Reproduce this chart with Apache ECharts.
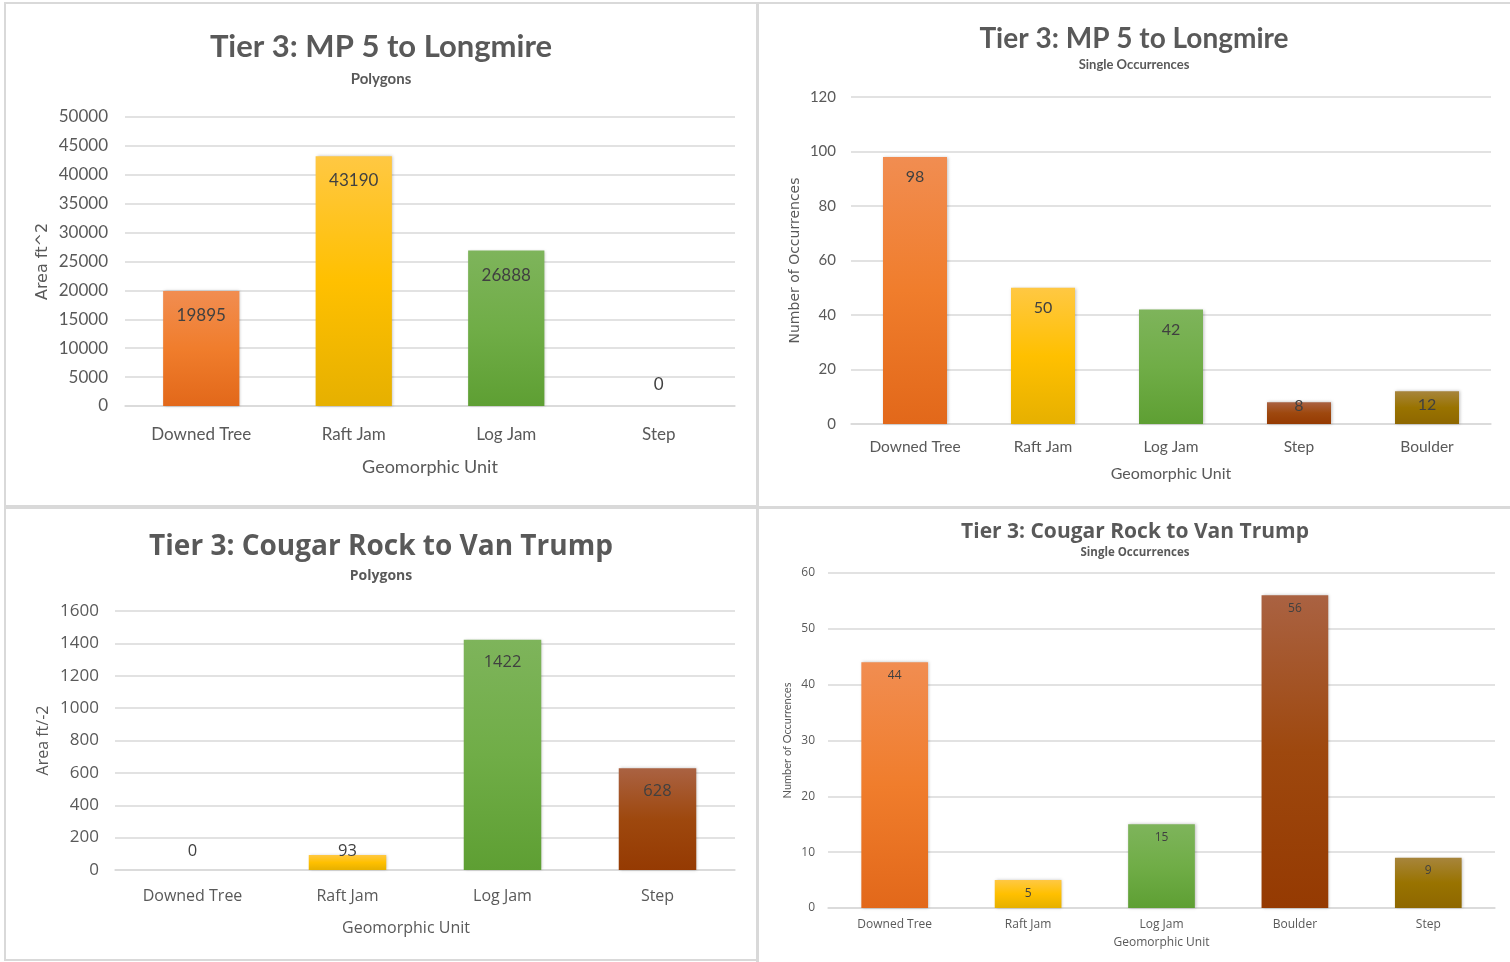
<!DOCTYPE html>
<html>
<head>
<meta charset="utf-8">
<script src="https://cdn.jsdelivr.net/npm/echarts@6.0.0/dist/echarts.min.js"></script>
<style>
html,body{margin:0;padding:0;background:#ffffff;}
#chart{width:1510px;height:962px;}
</style>
</head>
<body>
<div id="chart"></div>
<script>
// ---------- Data ----------
const p1Title = 'Tier 3: MP 5 to Longmire';
const p1Subtitle = 'Polygons';
const p1Categories = ['Downed Tree', 'Raft Jam', 'Log Jam', 'Step'];
const p1Values = [19895, 43190, 26888, 0];
const p1Ticks = [0, 5000, 10000, 15000, 20000, 25000, 30000, 35000, 40000, 45000, 50000];
const p1YName = 'Area ft^2';
const p1XName = 'Geomorphic Unit';

const p2Title = 'Tier 3: MP 5 to Longmire';
const p2Subtitle = 'Single Occurrences';
const p2Categories = ['Downed Tree', 'Raft Jam', 'Log Jam', 'Step', 'Boulder'];
const p2Values = [98, 50, 42, 8, 12];
const p2Ticks = [0, 20, 40, 60, 80, 100, 120];
const p2YName = 'Number of Occurrences';
const p2XName = 'Geomorphic Unit';

const p3Title = 'Tier 3: Cougar Rock to Van Trump';
const p3Subtitle = 'Polygons';
const p3Categories = ['Downed Tree', 'Raft Jam', 'Log Jam', 'Step'];
const p3Values = [0, 93, 1422, 628];
const p3Ticks = [0, 200, 400, 600, 800, 1000, 1200, 1400, 1600];
const p3YName = 'Area ft/-2';
const p3XName = 'Geomorphic Unit';

const p4Title = 'Tier 3: Cougar Rock to Van Trump';
const p4Subtitle = 'Single Occurrences';
const p4Categories = ['Downed Tree', 'Raft Jam', 'Log Jam', 'Boulder', 'Step'];
const p4Values = [44, 5, 15, 56, 9];
const p4Ticks = [0, 10, 20, 30, 40, 50, 60];
const p4YName = 'Number of Occurrences';
const p4XName = 'Geomorphic Unit';

// ---------- Styles ----------
const CAL = "Lato, 'Liberation Sans', sans-serif";
const SEG = "'Open Sans', 'Noto Sans', sans-serif";
const VER = "'DejaVu Sans', Verdana, sans-serif";
const AXIS_COLOR = '#595959';
const LABEL_COLOR = '#404040';
const GRID_COLOR = '#d9d9d9';

const palette = [
  ['#F18D51', '#F07D2C', '#E2681A'],  // orange
  ['#FFC843', '#FFC000', '#E6B000'],  // yellow
  ['#7EB45B', '#70AD47', '#5E9F33'],  // green
  ['#AA6242', '#9E480E', '#953A02'],  // brown
  ['#A7853C', '#997300', '#8E6700']   // dark gold
];
function grad(c) {
  return {type: 'linear', x: 0, y: 0, x2: 0, y2: 1,
    colorStops: [{offset: 0, color: c[0]}, {offset: 0.5, color: c[1]}, {offset: 1, color: c[2]}]};
}

const panels = [
  {title: p1Title, sub: p1Subtitle, cats: p1Categories, vals: p1Values, ticks: p1Ticks, yName: p1YName, xName: p1XName,
   grid: {left: 125, top: 117, width: 610, height: 289}, font: CAL,
   t: {x: 381, top: 31.5, size: 31}, s: {top: 72, size: 15},
   yl: {size: 17, margin: 17}, xl: {size: 17, margin: 20},
   xn: {size: 18, gap: 52, shift: 0}, yn: {font: VER, size: 16, gap: 74},
   dl: {size: 17, distance: 16}, over: {3: {position: 'top', distance: 13}}},
  {title: p2Title, sub: p2Subtitle, cats: p2Categories, vals: p2Values, ticks: p2Ticks, yName: p2YName, xName: p2XName,
   grid: {left: 851, top: 97, width: 640, height: 327}, font: CAL,
   t: {x: 1134, top: 24.5, size: 28}, s: {top: 58.5, size: 13},
   yl: {size: 15, margin: 15}, xl: {size: 15.5, margin: 15},
   xn: {size: 16, gap: 42, shift: 0}, yn: {font: VER, size: 14, gap: 49},
   dl: {size: 16, distance: 12}, over: {3: {distance: -4}, 4: {distance: 6}}},
  {title: p3Title, sub: p3Subtitle, cats: p3Categories, vals: p3Values, ticks: p3Ticks, yName: p3YName, xName: p3XName,
   grid: {left: 115, top: 611, width: 620, height: 259}, font: SEG,
   t: {x: 381, top: 533.5, size: 28}, s: {top: 569.5, size: 14},
   yl: {size: 17, margin: 16}, xl: {size: 16, margin: 18},
   xn: {size: 16, gap: 50, shift: -19}, yn: {font: SEG, size: 16, gap: 64},
   dl: {size: 16.5, distance: 14}, over: {0: {position: 'top', distance: 10}, 1: {position: 'top', distance: -5}}},
  {title: p4Title, sub: p4Subtitle, cats: p4Categories, vals: p4Values, ticks: p4Ticks, yName: p4YName, xName: p4XName,
   grid: {left: 828, top: 573, width: 667, height: 335}, font: SEG,
   t: {x: 1135, top: 522, size: 21}, s: {top: 546.5, size: 11.5},
   yl: {size: 12, margin: 13}, xl: {size: 12, margin: 11},
   xn: {size: 12, gap: 29, shift: 0}, yn: {font: CAL, size: 11, gap: 35},
   dl: {size: 12, distance: 7}, over: {}}
];

const option = {
  backgroundColor: '#ffffff',
  animation: false,
  title: [], grid: [], xAxis: [], yAxis: [], series: [],
  graphic: [
    {type: 'rect', silent: true, shape: {x: 4, y: 2, width: 1506, height: 2}, style: {fill: GRID_COLOR}},
    {type: 'rect', silent: true, shape: {x: 4, y: 2, width: 2, height: 959}, style: {fill: GRID_COLOR}},
    {type: 'rect', silent: true, shape: {x: 756, y: 2, width: 3, height: 960}, style: {fill: GRID_COLOR}},
    {type: 'rect', silent: true, shape: {x: 4, y: 505, width: 753, height: 4}, style: {fill: GRID_COLOR}},
    {type: 'rect', silent: true, shape: {x: 759, y: 506, width: 751, height: 3}, style: {fill: GRID_COLOR}},
    {type: 'rect', silent: true, shape: {x: 4, y: 959, width: 753, height: 2}, style: {fill: GRID_COLOR}}
  ]
};

panels.forEach((p, i) => {
  option.title.push({
    text: p.title, left: p.t.x, top: p.t.top, textAlign: 'center', padding: 0,
    textStyle: {fontFamily: p.font, fontSize: p.t.size, fontWeight: 'bold', color: AXIS_COLOR, lineHeight: p.t.size}
  });
  option.title.push({
    text: p.sub, left: p.t.x, top: p.s.top, textAlign: 'center', padding: 0,
    textStyle: {fontFamily: p.font, fontSize: p.s.size, fontWeight: 'bold', color: AXIS_COLOR, lineHeight: p.s.size}
  });
  option.grid.push(Object.assign({containLabel: false, outerBoundsMode: 'none'}, p.grid));
  option.xAxis.push({
    type: 'category', gridIndex: i, data: p.cats,
    name: p.xName, nameLocation: 'middle', nameGap: p.xn.gap,
    nameTextStyle: {fontFamily: p.font, fontSize: p.xn.size, color: AXIS_COLOR,
      padding: p.xn.shift < 0 ? [0, -2 * p.xn.shift, 0, 0] : 0},
    axisLine: {show: true, lineStyle: {color: GRID_COLOR, width: 1.5}},
    axisTick: {show: false},
    axisLabel: {interval: 0, margin: p.xl.margin, fontFamily: p.font, fontSize: p.xl.size, color: AXIS_COLOR},
    splitLine: {show: false}
  });
  option.yAxis.push({
    type: 'value', gridIndex: i,
    min: p.ticks[0], max: p.ticks[p.ticks.length - 1], interval: p.ticks[1] - p.ticks[0],
    name: p.yName, nameLocation: 'middle', nameGap: p.yn.gap,
    nameTextStyle: {fontFamily: p.yn.font, fontSize: p.yn.size, color: AXIS_COLOR},
    axisLine: {show: false}, axisTick: {show: false},
    axisLabel: {margin: p.yl.margin, fontFamily: p.font, fontSize: p.yl.size, color: AXIS_COLOR,
      formatter: v => String(v)},
    splitLine: {show: true, lineStyle: {color: GRID_COLOR, width: 1.5}}
  });
  option.series.push({
    type: 'bar', xAxisIndex: i, yAxisIndex: i, barWidth: '50%',
    label: {show: true, position: 'insideTop', distance: p.dl.distance,
      fontFamily: p.font, fontSize: p.dl.size, color: LABEL_COLOR},
    itemStyle: {shadowBlur: 3, shadowColor: 'rgba(0,0,0,0.25)', shadowOffsetX: 1, shadowOffsetY: 0},
    data: p.vals.map((v, j) => {
      const d = {value: v, itemStyle: {color: grad(palette[j])}};
      if (p.over[j]) d.label = p.over[j];
      return d;
    })
  });
});

const chart = echarts.init(document.getElementById('chart'), null, {renderer: 'canvas'});
chart.setOption(option);
</script>
</body>
</html>
